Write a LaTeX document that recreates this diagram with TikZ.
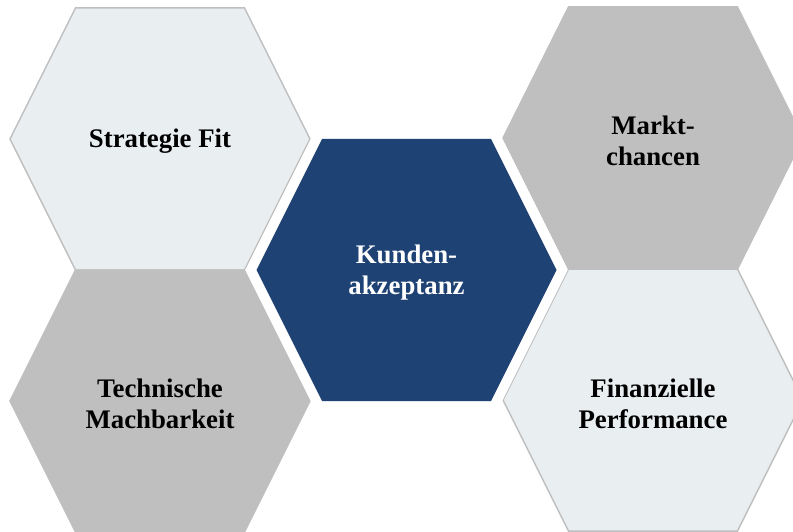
\documentclass[tikz,border=0pt]{standalone}
\usepackage{fontspec}
\setmainfont{Liberation Serif}
\usepackage{tikz}

\definecolor{hexgrey}{HTML}{BFBFBF}
\definecolor{hexlight}{HTML}{E9EEF1}
\definecolor{hexblue}{HTML}{1F4275}

\begin{document}
\begin{tikzpicture}
	[x=1pt,y=-1pt,
	lightstyle/.style={fill=hexlight,draw=hexgrey,line width=1.5pt},
	greystyle/.style={fill=hexgrey,draw=hexgrey,line width=1.5pt},
	bluestyle/.style={fill=hexblue,preaction={draw=white,line width=20pt}},
	labelstyle/.style={align=center,font=\bfseries\fontsize{26.8}{31}\selectfont}
	]
	
	%Set params
	\def\hexr{150}
	\def\hexi{84.5}
	\def\hexh{131}
	
	\useasboundingbox (0,0) rectangle (793,532);
	
	%Left column
	\path[lightstyle,shift={(160,139)}] (-\hexr,0) -- (-\hexi,-\hexh) -- (\hexi,-\hexh) -- (\hexr,0) -- (\hexi,\hexh) -- (-\hexi,\hexh) -- cycle;
	\path[greystyle,shift={(160,401)}] (-\hexr,0) -- (-\hexi,-\hexh) -- (\hexi,-\hexh) -- (\hexr,0) -- (\hexi,\hexh) -- (-\hexi,\hexh) -- cycle;
	
	%Right column
	\path[greystyle,shift={(653,138)}] (-\hexr,0) -- (-\hexi,-\hexh) -- (\hexi,-\hexh) -- (\hexr,0) -- (\hexi,\hexh) -- (-\hexi,\hexh) -- cycle;
	\path[lightstyle,shift={(653,400)}] (-\hexr,0) -- (-\hexi,-\hexh) -- (\hexi,-\hexh) -- (\hexr,0) -- (\hexi,\hexh) -- (-\hexi,\hexh) -- cycle;
	
	%Centre
	\path[bluestyle,shift={(406.5,270)}] (-\hexr,0) -- (-\hexi,-\hexh) -- (\hexi,-\hexh) -- (\hexr,0) -- (\hexi,\hexh) -- (-\hexi,\hexh) -- cycle;
	
	%Labels
	\node(Strategie)[labelstyle] at (160,141) {Strategie Fit};
	\node(Technik)[labelstyle] at (160,404) {Technische\\Machbarkeit};
	\node(Markt)[labelstyle] at (653,141) {Markt-\\chancen};
	\node(Finanzen)[labelstyle] at (653,404) {Finanzielle\\Performance};
	\node(Kunden)[labelstyle, text=white] at (406.5,273) {Kunden-\\akzeptanz};
	
\end{tikzpicture}
\end{document}
